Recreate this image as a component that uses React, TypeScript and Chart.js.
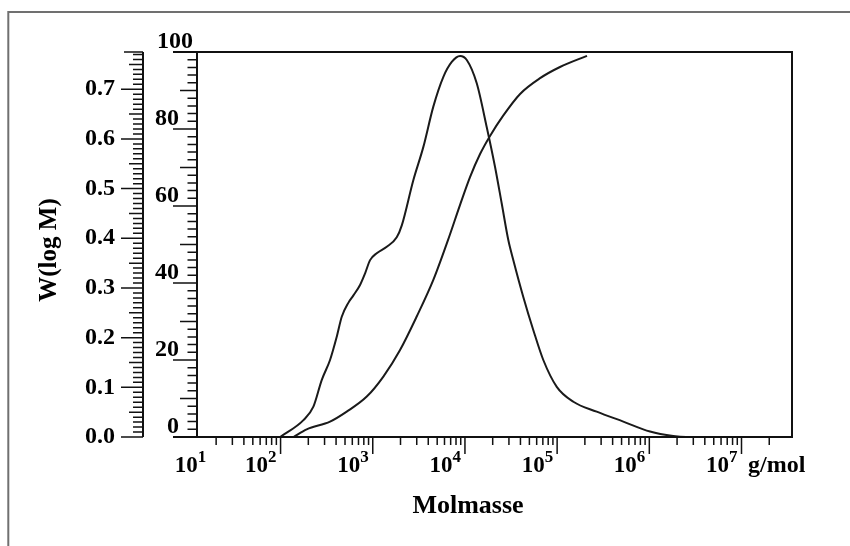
import React, { useEffect, useRef } from 'react';
import { Chart, registerables } from 'chart.js';

Chart.register(...registerables);

// ---- data ----
// Differential distribution W(log M) vs molar mass (g/mol)
const wMolarMass = [
  99, 177, 227, 280, 344, 407, 461, 543, 617, 728, 824, 935, 1104, 1419, 1820, 2065, 2754,
  3540, 4539, 5834, 7194, 8851, 10471, 13428, 17219, 21184, 25061, 29580, 33497, 42954,
  55208, 70795, 99083, 149968, 268534, 522396, 1018591, 1819701, 2500000, 26000000,
];
const wValues = [
  0, 0.034, 0.061, 0.115, 0.155, 0.202, 0.242, 0.27, 0.285, 0.306, 0.329, 0.356, 0.37,
  0.383, 0.402, 0.426, 0.517, 0.584, 0.665, 0.725, 0.755, 0.767, 0.759, 0.712, 0.624, 0.544,
  0.47, 0.396, 0.356, 0.282, 0.215, 0.155, 0.101, 0.071, 0.051, 0.031, 0.011, 0.002, 0, 0,
];

// Cumulative distribution (%) vs molar mass (g/mol)
const cumMolarMass = [
  138, 192, 344, 522, 861, 1303, 1977, 2999, 4539, 6561, 8851, 11350, 14588, 18707, 25882,
  39628, 65313, 107399, 210863,
];
const cumValues = [
  0, 2.0, 4.0, 6.6, 10.5, 15.7, 22.6, 31.3, 40.8, 51.2, 60.3, 67.5, 73.5, 78.2, 83.4, 89.1,
  93.2, 96.1, 99.0,
];

// ---- axes ----
const xMin = 12.4;
const xMax = 3.53e7;
const xDecades = [1, 2, 3, 4, 5, 6, 7];
const xMinorMultipliers = [2, 3, 4, 5, 6, 7, 8, 9];
const xMinorLimit = 2e7;
const wMax = 0.775;
const wTickValues = [0, 0.1, 0.2, 0.3, 0.4, 0.5, 0.6, 0.7];
const wTickLabels = ['0.0', '0.1', '0.2', '0.3', '0.4', '0.5', '0.6', '0.7'];
const cumMax = 100;
const cumTickValues = [0, 20, 40, 60, 80, 100];
const cumTickLabels = ['0', '20', '40', '60', '80', '100'];
const xTitle = 'Molmasse';
const xUnit = 'g/mol';
const yTitle = 'W(log M)';

const SERIF = '"Liberation Serif", "Times New Roman", serif';

const axesPlugin = {
  id: 'customAxes',
  afterDraw(chart: any) {
    const { ctx, chartArea: a, scales } = chart;
    const sx = scales.x;
    const sw = scales.yW;
    const sc = scales.yC;
    const mid = a.left; // 0-100 axis line
    const leftAxis = a.left - 54; // W(log M) axis line

    ctx.save();
    // outer frame
    ctx.strokeStyle = '#707070';
    ctx.lineWidth = 2;
    ctx.beginPath();
    ctx.moveTo(8.3, chart.height + 2);
    ctx.lineTo(8.3, 12);
    ctx.lineTo(chart.width + 2, 12);
    ctx.stroke();

    ctx.strokeStyle = '#111';
    ctx.lineCap = 'butt';

    // plot box + middle axis
    ctx.lineWidth = 2;
    ctx.beginPath();
    ctx.moveTo(mid - 24, a.top);
    ctx.lineTo(a.right, a.top);
    ctx.lineTo(a.right, a.bottom);
    ctx.lineTo(mid - 24, a.bottom);
    ctx.moveTo(mid, a.top);
    ctx.lineTo(mid, a.bottom);
    // left axis line
    ctx.moveTo(leftAxis, sw.getPixelForValue(wMax));
    ctx.lineTo(leftAxis, sw.getPixelForValue(0));
    ctx.stroke();

    ctx.lineWidth = 1.5;
    ctx.beginPath();
    // left axis ticks (every 0.01)
    for (let i = 0; i <= Math.floor(wMax * 100); i++) {
      const y = sw.getPixelForValue(i / 100);
      const len = i % 10 === 0 ? 22 : i % 5 === 0 ? 14 : 10;
      ctx.moveTo(leftAxis - len, y);
      ctx.lineTo(leftAxis, y);
    }
    {
      const y = sw.getPixelForValue(wMax);
      ctx.moveTo(leftAxis - 19, y);
      ctx.lineTo(leftAxis, y);
    }
    // middle axis ticks (every 2)
    for (let i = 0; i <= cumMax; i += 2) {
      const y = sc.getPixelForValue(i);
      const len = i % 20 === 0 ? 24 : i % 10 === 0 ? 17 : 9.5;
      ctx.moveTo(mid - len, y);
      ctx.lineTo(mid, y);
    }
    // x ticks
    xDecades.forEach((d) => {
      const major = Math.pow(10, d);
      const px = sx.getPixelForValue(major);
      if (px >= a.left && px <= a.right) {
        ctx.moveTo(px, a.bottom);
        ctx.lineTo(px, a.bottom + 17);
      }
      xMinorMultipliers.forEach((m) => {
        const v = m * major;
        if (v > xMinorLimit) return;
        const p = sx.getPixelForValue(v);
        if (p < a.left || p > a.right) return;
        ctx.moveTo(p, a.bottom);
        ctx.lineTo(p, a.bottom + 8);
      });
    });
    ctx.stroke();

    // labels
    ctx.fillStyle = '#000';
    ctx.font = `bold 24px ${SERIF}`;
    ctx.textAlign = 'right';
    ctx.textBaseline = 'middle';
    wTickValues.forEach((v, i) => {
      ctx.fillText(wTickLabels[i], leftAxis - 28, sw.getPixelForValue(v));
    });
    ctx.textBaseline = 'alphabetic';
    cumTickValues.forEach((v, i) => {
      const x = v === cumMax ? mid - 4 : mid - 18;
      ctx.fillText(cumTickLabels[i], x, sc.getPixelForValue(v) - 4);
    });

    // x decade labels 10^d
    const baseFont = `bold 23px ${SERIF}`;
    const supFont = `bold 17px ${SERIF}`;
    xDecades.forEach((d) => {
      const px = sx.getPixelForValue(Math.pow(10, d));
      ctx.font = baseFont;
      const bw = ctx.measureText('10').width;
      ctx.font = supFont;
      const sw2 = ctx.measureText(String(d)).width;
      const total = bw + sw2;
      const right = px < a.left ? px + total / 2 + 2 : px - 4;
      ctx.textAlign = 'left';
      ctx.font = baseFont;
      ctx.fillText('10', right - total, a.bottom + 35);
      ctx.font = supFont;
      ctx.fillText(String(d), right - sw2, a.bottom + 25);
    });

    ctx.font = `bold 24px ${SERIF}`;
    ctx.textAlign = 'left';
    ctx.fillText(xUnit, a.right - 44, a.bottom + 35);

    ctx.font = `bold 26px ${SERIF}`;
    ctx.textAlign = 'center';
    ctx.fillText(xTitle, a.left + 271, a.bottom + 76);

    ctx.save();
    ctx.translate(56, 250);
    ctx.rotate(-Math.PI / 2);
    ctx.font = `bold 25px ${SERIF}`;
    ctx.textAlign = 'center';
    ctx.fillText(yTitle, 0, 0);
    ctx.restore();

    ctx.restore();
  },
};

export default function App() {
  const canvasRef = useRef<HTMLCanvasElement | null>(null);

  useEffect(() => {
    const canvas = canvasRef.current;
    if (!canvas) return;
    const chart = new Chart(canvas, {
      type: 'line',
      data: {
        datasets: [
          {
            label: yTitle,
            data: wMolarMass.map((m, i) => ({ x: m, y: wValues[i] })),
            yAxisID: 'yW',
            borderColor: '#1a1a1a',
            borderWidth: 2,
            pointRadius: 0,
            cubicInterpolationMode: 'monotone',
            fill: false,
          },
          {
            label: 'Kumulativ',
            data: cumMolarMass.map((m, i) => ({ x: m, y: cumValues[i] })),
            yAxisID: 'yC',
            borderColor: '#1a1a1a',
            borderWidth: 2,
            pointRadius: 0,
            cubicInterpolationMode: 'monotone',
            fill: false,
          },
        ],
      },
      options: {
        animation: false,
        responsive: false,
        events: [],
        layout: { padding: { left: 197, top: 52, right: 58, bottom: 109 } },
        plugins: {
          legend: { display: false },
          tooltip: { enabled: false },
          title: { display: false },
        },
        scales: {
          x: { type: 'logarithmic', min: xMin, max: xMax, display: false },
          yW: { type: 'linear', min: 0, max: wMax, display: false },
          yC: { type: 'linear', min: 0, max: cumMax, display: false },
        },
      } as any,
      plugins: [axesPlugin],
    });
    return () => chart.destroy();
  }, []);

  return (
    <div style={{ position: 'absolute', left: 0, top: 0, width: 850, height: 546, background: '#fff' }}>
      <canvas ref={canvasRef} width={850} height={546} style={{ display: 'block' }} />
    </div>
  );
}
